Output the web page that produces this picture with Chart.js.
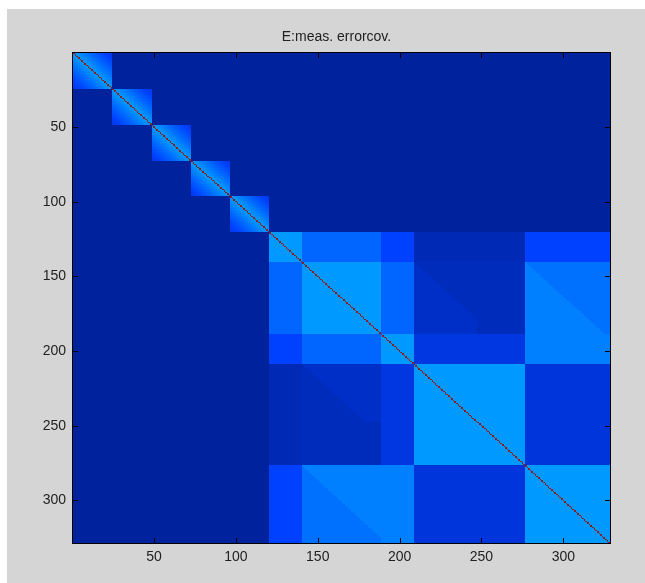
<!DOCTYPE html>
<html>
<head>
<meta charset="utf-8">
<script src="https://cdn.jsdelivr.net/npm/chart.js@4.4.1/dist/chart.umd.min.js"></script>
<style>
  html, body { margin: 0; padding: 0; background: #fff; }
  #wrap { position: absolute; left: 7px; top: 9px; width: 638px; height: 574px; background: #d5d5d5; }
</style>
</head>
<body>
<div id="wrap"><canvas id="covChart" width="638" height="574"></canvas></div>
<script>
// Tamanho da matriz de covariância e rótulos dos eixos
const matrixSize = 328;
const tickValues = [50, 100, 150, 200, 250, 300];
const titleText = 'E:meas. errorcov.';

// Blocos pequenos no canto superior esquerdo (limites dos índices)
const smallBlockEdges = [0, 24, 48, 72, 96, 120];
// Nível dentro de cada bloco pequeno, pela distância à diagonal (d = 0..23)
const smallBlockDecay = [1.0, 0.272, 0.265, 0.258, 0.250, 0.242, 0.234, 0.226, 0.218, 0.210,
  0.202, 0.195, 0.188, 0.181, 0.174, 0.167, 0.160, 0.153, 0.146, 0.139,
  0.132, 0.125, 0.118, 0.111];

// Blocos grandes (índices 121..328)
const bigBlockEdges = [120, 140, 188, 208, 276, 328];
const bigBlockLevels = [
  [0.274, 0.197, 0.140, 0.035, 0.140],
  [0.197, 0.274, 0.197, 0.045, 0.212],
  [0.140, 0.197, 0.274, 0.097, 0.237],
  [0.035, 0.045, 0.097, 0.274, 0.090],
  [0.140, 0.212, 0.237, 0.090, 0.274]
];
// Blocos fora da diagonal que têm uma parte triangular com outro nível
const splitRowBlock = [1, 1];
const splitColBlock = [3, 4];
const splitLevel = [0.062, 0.237];
const splitLimit = [39, 52];

const diagonalLevel = 1.0;
const backgroundLevel = 0.0;

// Mapa de cores (parecido com o jet do MATLAB)
const colorStops = [
  [0.000, [0, 34, 156]],
  [0.140, [0, 64, 255]],
  [0.300, [0, 170, 255]],
  [0.375, [0, 255, 255]],
  [0.625, [255, 255, 0]],
  [0.875, [255, 0, 0]],
  [1.000, [135, 30, 35]]
];

function colorFor(v) {
  for (let k = 1; k < colorStops.length; k++) {
    if (v <= colorStops[k][0]) {
      const [v0, c0] = colorStops[k - 1];
      const [v1, c1] = colorStops[k];
      const t = (v - v0) / (v1 - v0);
      return c0.map((c, i) => Math.round(c + (c1[i] - c) * t));
    }
  }
  return colorStops[colorStops.length - 1][1];
}

function blockOf(edges, i) {
  for (let b = 0; b < edges.length - 1; b++) {
    if (i > edges[b] && i <= edges[b + 1]) return b;
  }
  return -1;
}

// Valor da célula (r, c), índices começando em 1
function cellValue(r, c) {
  if (r === c) return diagonalLevel;
  const sr = blockOf(smallBlockEdges, r), sc = blockOf(smallBlockEdges, c);
  if (sr >= 0 || sc >= 0) {
    if (sr === sc) return smallBlockDecay[Math.abs(r - c)];
    return backgroundLevel;
  }
  const br = blockOf(bigBlockEdges, r), bc = blockOf(bigBlockEdges, c);
  for (let s = 0; s < splitRowBlock.length; s++) {
    let rowB = splitRowBlock[s], colB = splitColBlock[s], rr = r, cc = c;
    if (br === colB && bc === rowB) { rr = c; cc = r; }
    else if (!(br === rowB && bc === colB)) continue;
    const lr = rr - bigBlockEdges[rowB];
    const lc = cc - bigBlockEdges[colB];
    if (lc <= lr && lc <= splitLimit[s]) return splitLevel[s];
  }
  return bigBlockLevels[br][bc];
}

// Plugin que desenha a matriz como imagem, usando as escalas do gráfico
const heatmapPlugin = {
  id: 'heatmap',
  beforeDatasetsDraw(chart) {
    const { ctx, scales: { x, y } } = chart;
    const off = document.createElement('canvas');
    off.width = matrixSize;
    off.height = matrixSize;
    const octx = off.getContext('2d');
    const img = octx.createImageData(matrixSize, matrixSize);
    for (let r = 1; r <= matrixSize; r++) {
      for (let c = 1; c <= matrixSize; c++) {
        const col = colorFor(cellValue(r, c));
        const p = ((r - 1) * matrixSize + (c - 1)) * 4;
        img.data[p] = col[0];
        img.data[p + 1] = col[1];
        img.data[p + 2] = col[2];
        img.data[p + 3] = 255;
      }
    }
    octx.putImageData(img, 0, 0);
    const left = x.getPixelForValue(0.5), right = x.getPixelForValue(matrixSize + 0.5);
    const top = y.getPixelForValue(0.5), bottom = y.getPixelForValue(matrixSize + 0.5);
    ctx.save();
    ctx.imageSmoothingEnabled = false;
    ctx.drawImage(off, left, top, right - left, bottom - top);
    ctx.restore();
  }
};

// Plugin para a moldura, os ticks para dentro e o título
const boxPlugin = {
  id: 'matlabBox',
  afterDatasetsDraw(chart) {
    const { ctx, chartArea: a, scales: { x, y } } = chart;
    ctx.save();
    ctx.strokeStyle = '#000';
    ctx.lineWidth = 1;
    ctx.strokeRect(a.left - 0.5, a.top - 0.5, a.right - a.left + 1, a.bottom - a.top + 1);
    ctx.beginPath();
    x.ticks.forEach(t => {
      const px = Math.round(x.getPixelForValue(t.value)) + 0.5;
      ctx.moveTo(px, a.bottom); ctx.lineTo(px, a.bottom - 5);
      ctx.moveTo(px, a.top); ctx.lineTo(px, a.top + 5);
    });
    y.ticks.forEach(t => {
      const py = Math.round(y.getPixelForValue(t.value)) + 0.5;
      ctx.moveTo(a.left, py); ctx.lineTo(a.left + 5, py);
      ctx.moveTo(a.right, py); ctx.lineTo(a.right - 5, py);
    });
    ctx.stroke();
    ctx.fillStyle = '#222';
    ctx.font = '14px "Liberation Sans", Arial, sans-serif';
    ctx.textAlign = 'center';
    ctx.textBaseline = 'middle';
    ctx.fillText(titleText, (a.left + a.right) / 2 - 5, 28);
    ctx.restore();
  }
};

const tickFont = { family: '"Liberation Sans", Arial, sans-serif', size: 14 };

const ctx = document.getElementById('covChart').getContext('2d');
const covChart = new Chart(ctx, {
  type: 'scatter',
  data: { datasets: [{ data: [], pointRadius: 0 }] },
  options: {
    responsive: false,
    animation: false,
    layout: { padding: { top: 44, right: 35, left: 0, bottom: 0 } },
    plugins: { legend: { display: false }, tooltip: { enabled: false }, title: { display: false } },
    scales: {
      x: {
        type: 'linear',
        min: 0.5,
        max: matrixSize + 0.5,
        grid: { display: false, drawTicks: false },
        border: { display: false },
        ticks: { font: tickFont, color: '#222', padding: 6, maxRotation: 0, autoSkip: false },
        afterBuildTicks: s => { s.ticks = tickValues.map(v => ({ value: v })); },
        afterFit: s => { s.height = 40; }
      },
      y: {
        type: 'linear',
        reverse: true,
        min: 0.5,
        max: matrixSize + 0.5,
        grid: { display: false, drawTicks: false },
        border: { display: false },
        ticks: { font: tickFont, color: '#222', padding: 7, autoSkip: false },
        afterBuildTicks: s => { s.ticks = tickValues.map(v => ({ value: v })); },
        afterFit: s => { s.width = 66; }
      }
    }
  },
  plugins: [heatmapPlugin, boxPlugin]
});
</script>
</body>
</html>
